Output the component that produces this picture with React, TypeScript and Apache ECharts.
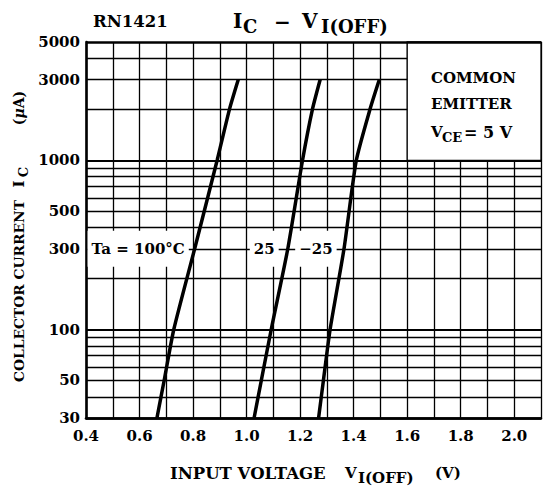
import React, { useEffect, useRef } from 'react';
import * as echarts from 'echarts';

// Collector current points (µA) shared by the three curves
const icPoints = [30, 50, 100, 300, 1000, 2000, 3000];
// Input voltage VI(OFF) (V) for each temperature
const vTa100 = [0.665, 0.692, 0.728, 0.806, 0.89, 0.936, 0.969];
const vTa25 = [1.028, 1.055, 1.092, 1.154, 1.209, 1.246, 1.275];
const vTaM25 = [1.269, 1.287, 1.312, 1.364, 1.41, 1.461, 1.496];

const curveNames = ['Ta = 100°C', '25', '−25'];

// Horizontal grid values
const fullGridIc = [40, 50, 60, 70, 80, 90, 100, 200, 300, 400, 500, 600, 700, 800, 900, 1000];
const partialGridIc = [2000, 3000, 4000];
const yTickLabels = [30, 50, 100, 300, 500, 1000, 3000, 5000];

const FONT = 'DejaVu Serif';

export default function App() {
  const ref = useRef<HTMLDivElement>(null);

  useEffect(() => {
    if (!ref.current) return;
    const chart = echarts.init(ref.current, undefined, { renderer: 'svg' });

    const lbl = (v: number) => ({
      show: yTickLabels.includes(v),
      position: 'start',
      distance: 6,
      formatter: String(v),
      color: '#000',
      fontFamily: FONT,
      fontWeight: 'bold',
      fontSize: 15,
    });

    const markLineData: any[] = [];
    markLineData.push({ yAxis: 30, lineStyle: { width: 2.6 }, label: lbl(30) });
    fullGridIc.forEach((v) => {
      markLineData.push({
        yAxis: v,
        lineStyle: { width: v === 100 || v === 1000 ? 2 : 1.3 },
        label: lbl(v),
      });
    });
    partialGridIc.forEach((v) => {
      markLineData.push([
        { coord: [0.4, v], lineStyle: { width: 1.3 }, label: lbl(v) },
        { coord: [1.6, v] },
      ]);
    });
    markLineData.push({ yAxis: 5000, lineStyle: { width: 2.6 }, label: lbl(5000) });

    const mkSeries = (vs: number[], extra: any = {}) => ({
      type: 'line',
      z: 4,
      symbol: 'none',
      smooth: 0.2,
      silent: true,
      lineStyle: { color: '#000', width: 3.5 },
      data: vs.map((v, i) => [v, icPoints[i]]),
      ...extra,
    });

    const text = (t: string, x: number, y: number, size: number, extra: any = {}) => ({
      type: 'text',
      x,
      y,
      z: 10,
      silent: true,
      rotation: extra.rotation || 0,
      style: {
        text: t,
        fill: '#000',
        font: `bold ${size}px "${FONT}"`,
        textAlign: extra.align || 'left',
        textVerticalAlign: 'middle',
      },
    });

    const R = Math.PI / 2;

    chart.setOption({
      animation: false,
      backgroundColor: '#fff',
      grid: { left: 86, top: 42, width: 459, height: 376 },
      xAxis: {
        type: 'value',
        min: 0.4,
        max: 2.1,
        interval: 0.1,
        axisLine: { show: true, lineStyle: { color: '#000', width: 2.6 } },
        axisTick: { show: false },
        splitLine: { show: true, lineStyle: { color: '#000', width: 1.3 } },
        axisLabel: {
          margin: 10,
          color: '#000',
          fontFamily: FONT,
          fontWeight: 'bold',
          fontSize: 15,
          formatter: (val: number) => {
            const t = Math.round(val * 10);
            return t % 2 === 0 && t <= 20 ? (t / 10).toFixed(1) : '';
          },
        },
      },
      yAxis: {
        type: 'log',
        logBase: 10,
        min: 30,
        max: 5000,
        axisLine: { show: true, lineStyle: { color: '#000', width: 2.6 } },
        axisTick: { show: false },
        splitLine: { show: false },
        axisLabel: { show: false },
      },
      series: [
        mkSeries(vTa100, {
          markLine: {
            z: 2,
            silent: true,
            symbol: ['none', 'none'],
            lineStyle: { color: '#000', type: 'solid' },
            data: markLineData,
          },
          markArea: {
            z: 1,
            silent: true,
            itemStyle: { color: '#fff', borderColor: '#000', borderWidth: 1.3 },
            data: [[{ coord: [1.6, 1000] }, { coord: [2.1, 5000] }]],
          },
        }),
        mkSeries(vTa25),
        mkSeries(vTaM25),
        {
          type: 'scatter',
          z: 3,
          silent: true,
          symbol: 'circle',
          symbolSize: 1,
          itemStyle: { color: '#fff', opacity: 1 },
          data: [
            [0.595, 300, curveNames[0]],
            [1.066, 300, curveNames[1]],
            [1.259, 300, curveNames[2]],
          ],
          label: {
            show: true,
            position: 'inside',
            formatter: (p: any) => p.data[2],
            color: '#000',
            opacity: 1,
            textBorderWidth: 0,
            fontFamily: FONT,
            fontWeight: 'bold',
            fontSize: 15,
            lineHeight: 16,
            backgroundColor: '#fff',
            padding: [10, 4],
          },
        },
      ],
      graphic: [
        // Title
        text('RN1421', 93, 21, 16.5),
        text('I', 233, 21, 20),
        text('C', 243, 26, 18),
        text('−', 274, 22, 20),
        text('V', 302, 21, 20),
        text('I(OFF)', 321, 26, 18),
        // Condition box
        text('COMMON', 431, 78, 15),
        text('EMITTER', 431, 104, 15),
        text('V', 431, 132, 15),
        text('CE', 442, 137, 13),
        text('= 5 V', 464, 132, 16),
        // Y axis title
        text('COLLECTOR CURRENT', 19, 291, 13.8, { rotation: R, align: 'center' }),
        text('I', 19, 184, 15, { rotation: R, align: 'center' }),
        text('C', 23, 172, 13, { rotation: R, align: 'center' }),
        {
          type: 'text',
          x: 19,
          y: 108,
          z: 10,
          rotation: R,
          silent: true,
          style: {
            text: '{n|(}{i|μ}{n|A)}',
            textAlign: 'center',
            textVerticalAlign: 'middle',
            fill: '#000',
            rich: {
              n: { fontFamily: FONT, fontWeight: 'bold', fontSize: 14, fill: '#000' },
              i: { fontFamily: FONT, fontWeight: 'bold', fontStyle: 'italic', fontSize: 14, fill: '#000' },
            },
          },
        },
        // X axis title
        text('INPUT VOLTAGE', 170, 473, 16.5),
        text('V', 345, 473, 15),
        text('I(OFF)', 358, 478, 15),
        text('(V)', 435, 473, 15),
      ],
    });

    return () => chart.dispose();
  }, []);

  return (
    <div
      ref={ref}
      style={{ position: 'fixed', left: 0, top: 0, width: 544, height: 490 }}
    />
  );
}
